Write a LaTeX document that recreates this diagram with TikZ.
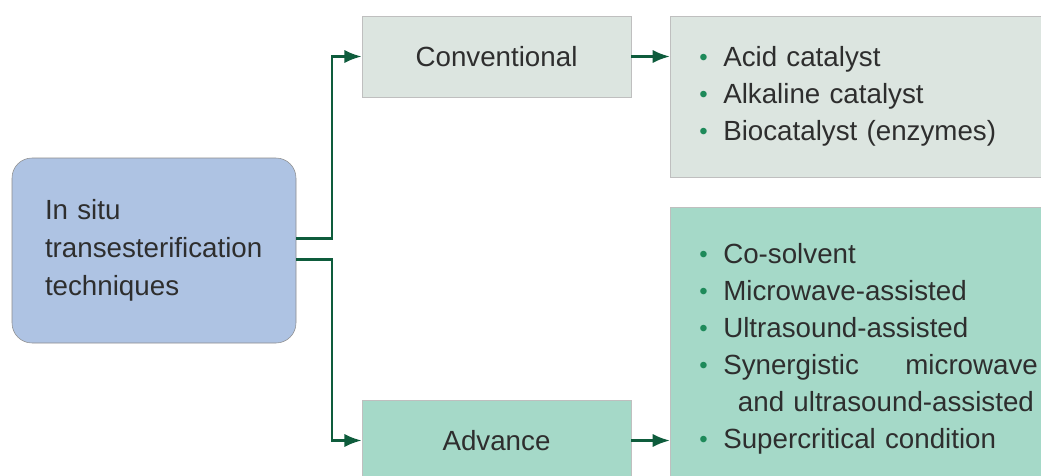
\documentclass[tikz,border=0pt]{standalone}
\usepackage{fontspec}
\setmainfont{Liberation Sans}
\usepackage{tikz}
\usetikzlibrary{positioning,arrows.meta}

\definecolor{mainblue}{HTML}{AEC3E3}
\definecolor{convgray}{HTML}{DCE5E0}
\definecolor{advmint}{HTML}{A5D9C8}
\definecolor{arrowgreen}{HTML}{0E5C3C}
\definecolor{dotgreen}{HTML}{1E8A5A}
\definecolor{txtgray}{HTML}{2E2E2E}

\newcommand{\itm}{\makebox[18pt][l]{\textcolor{dotgreen}{\raisebox{0.6pt}{\fontsize{18}{18}\selectfont •}}}}

\begin{document}
\begin{tikzpicture}[x=0.75pt,y=-0.75pt]
 	\tikzstyle{main}=[rectangle, rounded corners=15pt, draw=black!45, fill=mainblue, align=left, text width=163.5pt, inner xsep=24.75pt, minimum height=138.75pt, text=txtgray, font=\fontsize{20.8}{28.5}\selectfont]
 	\tikzstyle{box}=[rectangle, draw=black!25, minimum width=201.75pt, minimum height=60.75pt, text=txtgray, font=\fontsize{20.8}{28}\selectfont]
 	\tikzstyle{listbox}=[rectangle, draw=black!25, anchor=west, align=left, text width=270pt, inner xsep=21.75pt, text=txtgray, font=\fontsize{20.8}{27.75}\selectfont]
 	\tikzstyle{connect}=[-{Latex[length=13pt,width=10pt]}, line width=2pt, draw=arrowgreen]
 	\useasboundingbox (0,0) rectangle (1041,475);
 	\clip (0,0) rectangle (1041,475);
 	\node[main] (main) at (154,250.5) {In situ\\transesterification\\techniques};
 	\node[box, fill=convgray] (conv) at (496.5,56.5) {Conventional};
 	\node[box, fill=advmint] (adv) at (496.5,440.5) {Advance};
 	\node[listbox, fill=convgray, minimum height=120.75pt] (catlist) at (670,96.5) {\itm Acid catalyst\\ \itm Alkaline catalyst\\ \itm Biocatalyst (enzymes)};
 	\node[listbox, fill=advmint, minimum height=212.25pt] (advlist) at (670,348.5) {\itm Co-solvent\\ \itm Microwave-assisted\\ \itm Ultrasound-assisted\\ \itm \makebox[236pt][l]{Synergistic\hfill microwave}\\ \hspace*{29pt}and ultrasound-assisted\\ \itm Supercritical condition};
 	\coordinate (fork) at (332,250.5);
 	\draw[connect] ([yshift=9pt]main.east) -- ([yshift=9pt]fork) |- (conv.west);
 	\draw[connect] ([yshift=-6.75pt]main.east) -- ([yshift=-6.75pt]fork) |- (adv.west);
 	\draw[connect] (conv.east) -- (conv.east -| catlist.west);
 	\draw[connect] (adv.east) -- (adv.east -| advlist.west);
\end{tikzpicture}
\end{document}
